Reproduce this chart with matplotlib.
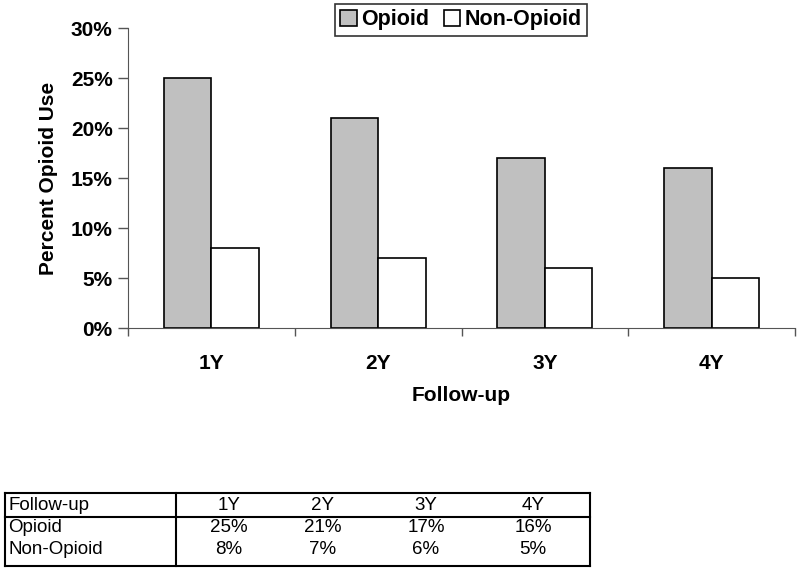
import matplotlib.pyplot as plt
import numpy as np
from matplotlib.lines import Line2D

plt.rcParams['font.family'] = ['Liberation Sans', 'DejaVu Sans']

categories = ['1Y', '2Y', '3Y', '4Y']
opioid = [25, 21, 17, 16]
non_opioid = [8, 7, 6, 5]
series_names = ['Opioid', 'Non-Opioid']

fig = plt.figure(figsize=(8, 5.74), dpi=100)
ax = fig.add_axes([0.16, 1 - 328 / 574, 0.99375 - 0.16, 300 / 574])

x = np.arange(len(categories))
w = 0.285
ax.bar(x - w / 2, opioid, w, color='#c0c0c0', edgecolor='black', linewidth=1.2, label=series_names[0])
ax.bar(x + w / 2, non_opioid, w, color='white', edgecolor='black', linewidth=1.2, label=series_names[1])

ax.set_xlim(-0.5, len(categories) - 0.5)
ax.set_ylim(0, 30)
ax.set_yticks(range(0, 31, 5))
ax.set_yticklabels([f'{v}%' for v in range(0, 31, 5)], fontsize=15, fontweight='bold')
ax.set_xticks(x)
ax.set_xticklabels(categories, fontsize=15, fontweight='bold')
ax.set_xticks(np.arange(-0.5, len(categories)), minor=True)
ax.tick_params(axis='x', which='major', length=0, pad=19)
ax.tick_params(axis='x', which='minor', length=6, width=1, color='#555555')
ax.tick_params(axis='y', length=7, width=1, color='#555555', pad=4)

for s in ['top', 'right']:
    ax.spines[s].set_visible(False)
ax.spines['left'].set_color('#555555')
ax.spines['bottom'].set_color('#555555')

ax.set_ylabel('Percent Opioid Use', fontsize=15, fontweight='bold', labelpad=9)
ax.set_xlabel('Follow-up', fontsize=15, fontweight='bold', labelpad=9)

leg = fig.legend(loc='upper left', bbox_to_anchor=(335 / 800, 1 - 4 / 574), ncol=2,
                 prop={'weight': 'bold', 'size': 15.5}, frameon=True, fancybox=False,
                 handlelength=0.75, handleheight=0.75, handletextpad=0.2, columnspacing=0.7,
                 borderpad=0.25, borderaxespad=0)
leg.get_frame().set_edgecolor('black')
leg.get_frame().set_linewidth(1.2)

# table below the chart
def fx(px):
    return px / 800

def fy(py):
    return 1 - py / 574

lw = 1.5
for y in [493, 517, 566]:
    fig.add_artist(Line2D([fx(5), fx(590)], [fy(y), fy(y)], color='black', lw=lw))
for xp in [5, 176, 590]:
    fig.add_artist(Line2D([fx(xp), fx(xp)], [fy(493), fy(566)], color='black', lw=lw))

col_x = [229, 323, 426, 533]
row_y = [505, 528, 550]
tkw = dict(fontsize=13.5, va='center', family=['Liberation Sans', 'DejaVu Sans'])
fig.text(fx(8), fy(row_y[0]), 'Follow-up', ha='left', **tkw)
for cx, c in zip(col_x, categories):
    fig.text(fx(cx), fy(row_y[0]), c, ha='center', **tkw)
for ry, name, vals in zip(row_y[1:], series_names, [opioid, non_opioid]):
    fig.text(fx(8), fy(ry), name, ha='left', **tkw)
    for cx, v in zip(col_x, vals):
        fig.text(fx(cx), fy(ry), f'{v}%', ha='center', **tkw)

fig.savefig('out.png', dpi=100)
